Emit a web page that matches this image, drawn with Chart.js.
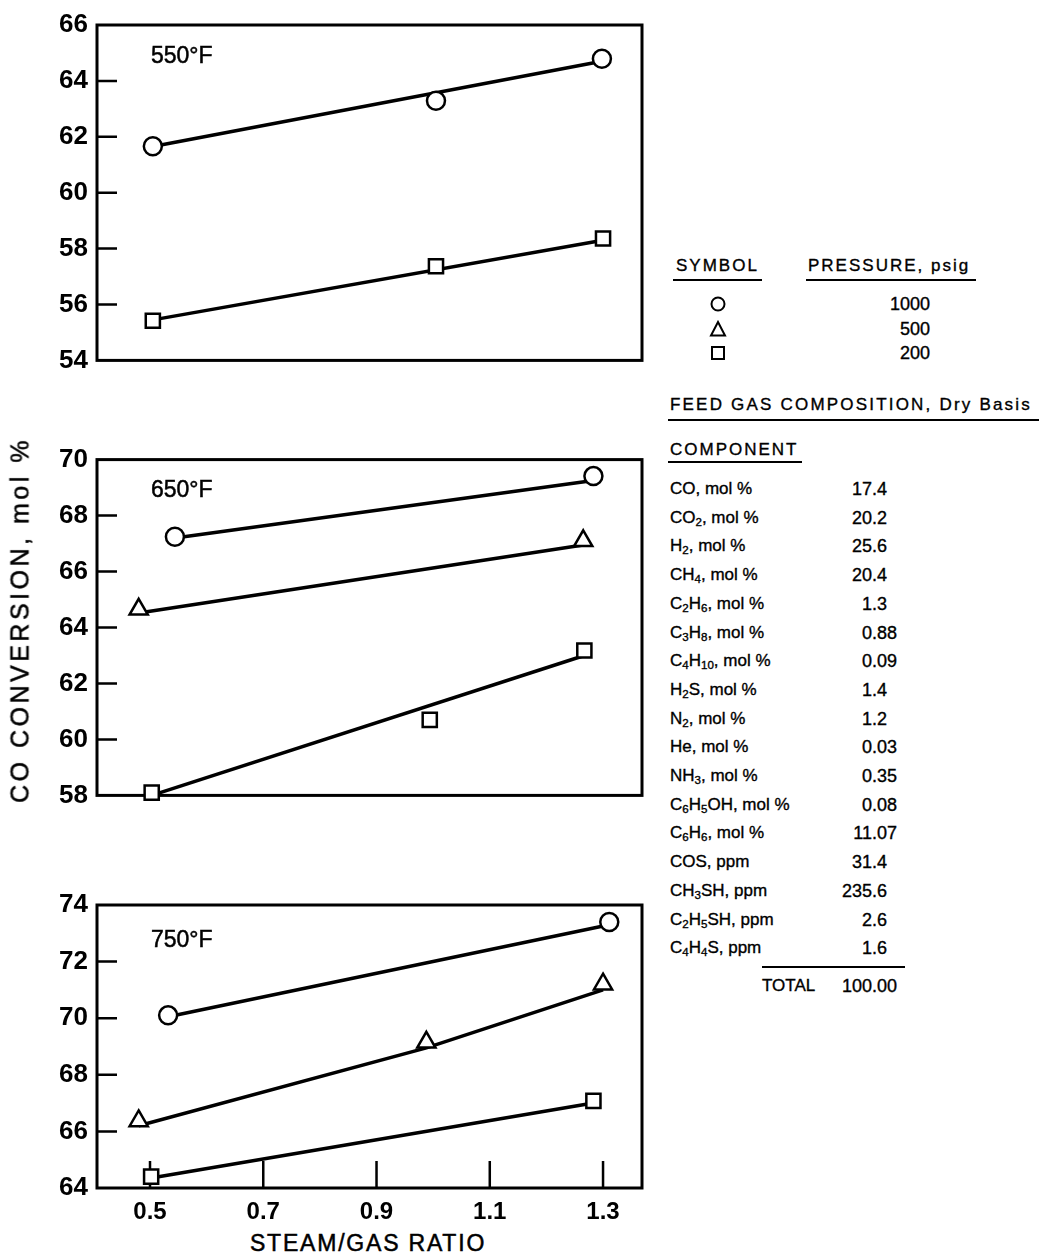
<!DOCTYPE html>
<html>
<head>
<meta charset="utf-8">
<title>CO conversion vs. steam/gas ratio</title>
<script src="https://cdn.jsdelivr.net/npm/chart.js@4.4.1/dist/chart.umd.min.js"></script>
<style>
  html, body { margin: 0; padding: 0; background: #fff; }
  body {
    width: 1039px; height: 1256px; position: relative; overflow: hidden;
    font-family: 'Liberation Sans', Arial, sans-serif; color: #000;
  }
  canvas { position: absolute; left: 0; }
  .t { position: absolute; white-space: nowrap; line-height: 20px; -webkit-text-stroke: 0.35px #000; }
  .temp { font-size: 23px; line-height: 24px; -webkit-text-stroke: 0.5px #000; }
  .rule { position: absolute; height: 2px; background: #000; }
  .ytitle {
    position: absolute; left: 20px; top: 620px; font-size: 25px; letter-spacing: 3.5px;
    transform: translate(-50%, -50%) rotate(-90deg); white-space: nowrap; -webkit-text-stroke: 0.5px #000;
  }
  .xtitle { position: absolute; left: 368px; top: 1243px; font-size: 23px; letter-spacing: 1.8px;
    transform: translate(-50%, -50%); white-space: nowrap; -webkit-text-stroke: 0.5px #000; }
  .tbl { font-size: 17px; }
  .tbl sub { font-size: 0.68em; vertical-align: -0.3em; line-height: 0; }
  .num { font-size: 18px; }
  .num .i { display: inline-block; width: 60px; text-align: right; }
  .hdr { letter-spacing: 2px; }
</style>
</head>
<body>
<canvas id="c550" width="660" height="385" style="top:0"></canvas>
<canvas id="c650" width="660" height="385" style="top:435px"></canvas>
<canvas id="c750" width="660" height="348" style="top:880px"></canvas>

<div class="t temp" style="left:151px; top:43px">550°F</div>
<div class="t temp" style="left:151px; top:477px">650°F</div>
<div class="t temp" style="left:151px; top:927px">750°F</div>

<div class="ytitle">CO CONVERSION, mol %</div>
<div class="xtitle">STEAM/GAS RATIO</div>

<div id="table"></div>

<script>
// x axis tick values (steam/gas ratio)
const ratioTicks = [0.5, 0.7, 0.9, 1.1, 1.3];

// 550 °F — measured points and fitted lines (fit value at first and last ratio)
const r550_1000 = [0.505, 1.005, 1.298];
const co550_1000 = [61.66, 63.29, 64.79];
const r550_200 = [0.505, 1.005, 1.30];
const co550_200 = [55.42, 57.37, 58.36];
const fit550_1000 = [61.65, 64.70];
const fit550_200 = [55.45, 58.30];

// 650 °F
const r650_1000 = [0.544, 1.283];
const co650_1000 = [67.24, 69.41];
const r650_500 = [0.48, 1.265];
const co650_500 = [64.65, 67.10];
const r650_200 = [0.503, 0.994, 1.267];
const co650_200 = [58.10, 60.70, 63.18];
const fit650_1000 = [67.20, 69.25];
const fit650_500 = [64.52, 66.95];
const fit650_200 = [58.00, 63.00];

// 750 °F
const r750_1000 = [0.532, 1.311];
const co750_1000 = [70.10, 73.40];
const r750_500 = [0.48, 0.988, 1.30];
const co750_500 = [66.37, 69.15, 71.20];
const r750_200 = [0.502, 1.283];
const co750_200 = [64.40, 67.08];
const fit750_1000 = [70.05, 73.30];
const fit750_500 = [66.20, 68.95, 71.00];
const fit750_200 = [64.35, 67.00];

// legend
const pressures = ['1000', '500', '200'];
const symbols = ['circle', 'triangle', 'rect'];

// feed gas composition, dry basis
const components = [
  'CO, mol %', 'CO_2, mol %', 'H_2, mol %', 'CH_4, mol %', 'C_2H_6, mol %',
  'C_3H_8, mol %', 'C_4H_10, mol %', 'H_2S, mol %', 'N_2, mol %', 'He, mol %',
  'NH_3, mol %', 'C_6H_5OH, mol %', 'C_6H_6, mol %', 'COS, ppm', 'CH_3SH, ppm',
  'C_2H_5SH, ppm', 'C_4H_4S, ppm',
];
const amounts = [
  '17.4', '20.2', '25.6', '20.4', '1.3', '0.88', '0.09', '1.4', '1.2', '0.03',
  '0.35', '0.08', '11.07', '31.4', '235.6', '2.6', '1.6',
];
const total = '100.00';

(function () {
  'use strict';

  const FONT = 'Liberation Sans, Arial, sans-serif';
  const RADIUS = { circle: 9, triangle: 10.5, rect: 10 };

  // box round the plot area plus inward tick marks
  const framePlugin = {
    id: 'frame',
    beforeDatasetsDraw(chart, args, opts) {
      const { ctx, chartArea: a, scales } = chart;
      ctx.save();
      ctx.strokeStyle = '#000';
      ctx.lineWidth = 2.5;
      ctx.beginPath();
      scales.y.ticks.forEach(t => {
        if (t.value <= scales.y.min || t.value >= scales.y.max) return;
        const y = scales.y.getPixelForValue(t.value);
        ctx.moveTo(a.left, y);
        ctx.lineTo(a.left + 20, y);
      });
      if (opts.xTicks) {
        ratioTicks.forEach(v => {
          const x = scales.x.getPixelForValue(v);
          ctx.moveTo(x, a.bottom);
          ctx.lineTo(x, a.bottom - 27);
        });
      }
      ctx.stroke();
      ctx.lineWidth = 3;
      ctx.strokeRect(a.left, a.top, a.right - a.left, a.bottom - a.top);
      ctx.restore();
    },
  };

  function pts(xs, ys) {
    return ys.map((y, i) => ({ x: xs[i], y }));
  }

  function markers(xs, ys, style) {
    return {
      data: pts(xs, ys),
      showLine: false,
      pointStyle: style,
      pointRadius: RADIUS[style],
      pointHoverRadius: RADIUS[style],
      pointBorderWidth: 2.5,
      pointBorderColor: '#000',
      pointBackgroundColor: '#fff',
      order: 0,
      clip: false,
    };
  }

  function fitLine(xs, ys) {
    const fx = ys.length === xs.length ? xs : [xs[0], xs[xs.length - 1]];
    return {
      data: pts(fx, ys),
      showLine: true,
      borderColor: '#000',
      borderWidth: 3.5,
      pointRadius: 0,
      tension: 0,
      order: 1,
      clip: false,
    };
  }

  function makeChart(id, cfg) {
    const showX = !!cfg.xLabels;
    return new Chart(document.getElementById(id), {
      type: 'scatter',
      data: { datasets: cfg.datasets },
      options: {
        responsive: false,
        animation: false,
        events: [],
        layout: { padding: { top: cfg.padTop, right: 18, left: 0, bottom: 0 } },
        plugins: { legend: { display: false }, tooltip: { enabled: false }, frame: { xTicks: showX } },
        scales: {
          x: {
            type: 'linear',
            min: 0.4064,
            max: 1.3688,
            grid: { display: false, drawTicks: false },
            border: { display: false },
            afterBuildTicks: s => { s.ticks = ratioTicks.map(v => ({ value: v })); },
            afterFit: s => { s.height = cfg.xHeight; },
            ticks: {
              display: showX,
              padding: 10,
              color: '#000',
              font: { family: FONT, size: 24, weight: 'bold' },
              callback: v => v.toFixed(1),
            },
          },
          y: {
            min: cfg.yMin,
            max: cfg.yMax,
            grid: { display: false, drawTicks: false },
            border: { display: false },
            afterFit: s => { s.width = 97; },
            ticks: {
              stepSize: 2,
              padding: 9,
              color: '#000',
              font: { family: FONT, size: 26, weight: 'bold' },
            },
          },
        },
      },
      plugins: [framePlugin],
    });
  }

  makeChart('c550', {
    padTop: 25, xHeight: 22, yMin: 54, yMax: 66,
    datasets: [
      markers(r550_1000, co550_1000, 'circle'),
      markers(r550_200, co550_200, 'rect'),
      fitLine(r550_1000, fit550_1000),
      fitLine(r550_200, fit550_200),
    ],
  });

  makeChart('c650', {
    padTop: 22, xHeight: 23, yMin: 58, yMax: 70,
    datasets: [
      markers(r650_1000, co650_1000, 'circle'),
      markers(r650_500, co650_500, 'triangle'),
      markers(r650_200, co650_200, 'rect'),
      fitLine(r650_1000, fit650_1000),
      fitLine(r650_500, fit650_500),
      fitLine(r650_200, fit650_200),
    ],
  });

  makeChart('c750', {
    padTop: 25, xHeight: 40, yMin: 64, yMax: 74, xLabels: true,
    datasets: [
      markers(r750_1000, co750_1000, 'circle'),
      markers(r750_500, co750_500, 'triangle'),
      markers(r750_200, co750_200, 'rect'),
      fitLine(r750_1000, fit750_1000),
      fitLine(r750_500, fit750_500),
      fitLine(r750_200, fit750_200),
    ],
  });

  // right-hand legend and composition table
  const SHAPES = {
    circle: '<circle cx="9" cy="9" r="6.5"/>',
    triangle: '<polygon points="9,2 16,15.5 2,15.5"/>',
    rect: '<rect x="3" y="3" width="12" height="12"/>',
  };

  function sub(s) { return s.replace(/_(\d+)/g, '<sub>$1</sub>'); }

  function amount(v, left, top) {
    const [i, f] = v.split('.');
    return `<div class="t num" style="left:${left}px; top:${top}px"><span class="i">${i}</span>.${f}</div>`;
  }

  let html = '';
  html += '<div class="t tbl hdr" style="left:676px; top:256px">SYMBOL</div>';
  html += '<div class="rule" style="left:673px; top:279px; width:89px"></div>';
  html += '<div class="t tbl hdr" style="left:808px; top:256px">PRESSURE, psig</div>';
  html += '<div class="rule" style="left:806px; top:279px; width:170px"></div>';
  pressures.forEach((p, k) => {
    const cy = 304 + k * 24.5;
    html += `<svg style="position:absolute; left:709px; top:${cy - 9}px" width="18" height="18">` +
      `<g fill="none" stroke="#000" stroke-width="2">${SHAPES[symbols[k]]}</g></svg>`;
    html += `<div class="t tbl" style="left:870px; top:${cy - 10}px; width:60px; text-align:right; font-size:18px">${p}</div>`;
  });

  html += '<div class="t tbl" style="left:670px; top:395px; letter-spacing:2.2px">FEED GAS COMPOSITION, Dry Basis</div>';
  html += '<div class="rule" style="left:668px; top:419px; width:371px"></div>';
  html += '<div class="t tbl hdr" style="left:670px; top:440px">COMPONENT</div>';
  html += '<div class="rule" style="left:668px; top:461px; width:134px"></div>';

  components.forEach((c, k) => {
    const cy = 489 + k * 28.7;
    html += `<div class="t tbl" style="left:670px; top:${cy - 10}px">${sub(c)}</div>`;
    html += amount(amounts[k], 812, cy - 10);
  });

  html += '<div class="rule" style="left:762px; top:966px; width:143px"></div>';
  html += '<div class="t tbl" style="left:762px; top:976px">TOTAL</div>';
  html += amount(total, 812, 976);

  document.getElementById('table').innerHTML = html;
})();
</script>
</body>
</html>
